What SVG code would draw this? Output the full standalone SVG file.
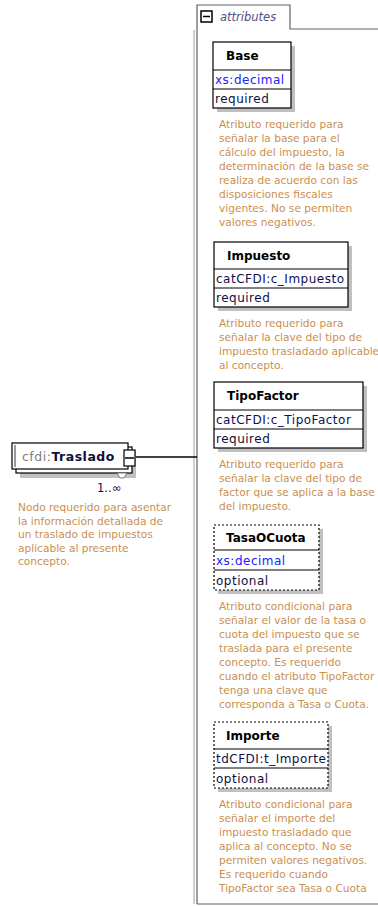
<svg xmlns="http://www.w3.org/2000/svg" width="378" height="906" viewBox="0 0 378 906">
<style>
.desc{font-family:"DejaVu Sans",sans-serif;font-size:10.6px;fill:#c99050}
.hdr{font-family:"DejaVu Sans",sans-serif;font-size:12px;font-weight:bold;fill:#000}
.typ{font-family:"DejaVu Sans",sans-serif;font-size:12px;letter-spacing:0.5px;fill:#101050}
.xs{fill:#2020ff}
.use{font-family:"DejaVu Sans",sans-serif;font-size:12px;letter-spacing:0.5px;fill:#101040}
.box{fill:#fff;stroke:#000;stroke-width:1.2}
.dbox{fill:#fff;stroke:#000;stroke-width:1.2;stroke-dasharray:2,2}
.shadow{fill:#c0c0c0}
.div{stroke:#000;stroke-width:1}
.frame{fill:none;stroke:#606060;stroke-width:1.2}
</style>
<g id="attributes-frame">
<path class="frame" d="M197,904 V5 H290 V29 H378"/>
<line x1="194" y1="30" x2="194" y2="904" stroke="#a0a0a0" stroke-width="1"/>
<line x1="197" y1="904" x2="378" y2="904" stroke="#606060" stroke-width="1.2"/>
<rect x="201" y="11" width="11" height="11" fill="#fff" stroke="#000" stroke-width="1.5"/>
<line x1="203" y1="16.5" x2="210" y2="16.5" stroke="#000" stroke-width="1.5"/>
<text x="220" y="21" font-family="DejaVu Sans,sans-serif" font-size="11.5" font-style="italic" fill="#505080">attributes</text>
</g>
<g id="connectors">
<line x1="136" y1="457" x2="197" y2="457" stroke="#000" stroke-width="1.5"/>
</g>
<g id="Traslado">
<rect class="shadow" x="20" y="451" width="116" height="27"/>
<rect class="box" x="16" y="447" width="116" height="26"/>
<rect class="box" x="12" y="443" width="116" height="26"/>
<line x1="15" y1="445" x2="15" y2="467" stroke="#000" stroke-width="0.8"/>
<text x="22" y="461" font-family="DejaVu Sans,sans-serif" font-size="12.5" letter-spacing="0.5"><tspan fill="#808080">cfdi:</tspan><tspan font-weight="bold" fill="#10103a">Traslado</tspan></text>
<rect x="124" y="450" width="11" height="16" fill="#fff" stroke="#000" stroke-width="1.2"/>
<line x1="125" y1="458" x2="134" y2="458" stroke="#000" stroke-width="1.5"/>
<path d="M117,473 L127,473 L124,478 L120,478 Z" fill="#fff" stroke="#606060" stroke-width="0.8"/>
<text x="97" y="492" font-family="DejaVu Sans,sans-serif" font-size="11.5" fill="#101050">1..∞</text>
<text class="desc" font-size="11.4"><tspan x="18" y="511">Nodo requerido para asentar</tspan><tspan x="18" y="524.5">la información detallada de</tspan><tspan x="18" y="538">un traslado de impuestos</tspan><tspan x="18" y="551.5">aplicable al presente</tspan><tspan x="18" y="565">concepto.</tspan></text>
</g>
<g id="Base">
<rect class="shadow" x="217" y="46" width="78" height="66"/>
<rect class="box" x="213" y="42" width="78" height="66"/>
<line class="div" x1="213" y1="70" x2="291" y2="70"/>
<line class="div" x1="213" y1="89" x2="291" y2="89"/>
<text class="hdr" x="226" y="60">Base</text>
<text class="typ xs" x="215" y="84">xs:decimal</text>
<text class="use" x="215" y="103">required</text>
<text class="desc"><tspan x="219" y="128">Atributo requerido para</tspan><tspan x="219" y="142">señalar la base para el</tspan><tspan x="219" y="156">cálculo del impuesto, la</tspan><tspan x="219" y="170">determinación de la base se</tspan><tspan x="219" y="184">realiza de acuerdo con las</tspan><tspan x="219" y="198">disposiciones fiscales</tspan><tspan x="219" y="212">vigentes. No se permiten</tspan><tspan x="219" y="226">valores negativos.</tspan></text>
</g>
<g id="Impuesto">
<rect class="shadow" x="218" y="246" width="134" height="65"/>
<rect class="box" x="214" y="242" width="134" height="65"/>
<line class="div" x1="214" y1="269" x2="348" y2="269"/>
<line class="div" x1="214" y1="288" x2="348" y2="288"/>
<text class="hdr" x="227" y="260">Impuesto</text>
<text class="typ" x="216" y="283">catCFDI:c_Impuesto</text>
<text class="use" x="216" y="302">required</text>
<text class="desc"><tspan x="219" y="327">Atributo requerido para</tspan><tspan x="219" y="341">señalar la clave del tipo de</tspan><tspan x="219" y="355">impuesto trasladado aplicable</tspan><tspan x="219" y="369">al concepto.</tspan></text>
</g>
<g id="TipoFactor">
<rect class="shadow" x="218" y="386" width="149" height="66"/>
<rect class="box" x="214" y="382" width="149" height="66"/>
<line class="div" x1="214" y1="410" x2="363" y2="410"/>
<line class="div" x1="214" y1="429" x2="363" y2="429"/>
<text class="hdr" x="227" y="400">TipoFactor</text>
<text class="typ" x="216" y="424">catCFDI:c_TipoFactor</text>
<text class="use" x="216" y="443">required</text>
<text class="desc"><tspan x="219" y="468">Atributo requerido para</tspan><tspan x="219" y="482">señalar la clave del tipo de</tspan><tspan x="219" y="496">factor que se aplica a la base</tspan><tspan x="219" y="510">del impuesto.</tspan></text>
</g>
<g id="TasaOCuota">
<rect class="shadow" x="218" y="529" width="105" height="65"/>
<rect class="dbox" x="214" y="525" width="105" height="65"/>
<line class="div" x1="214" y1="550" x2="319" y2="550"/>
<line class="div" x1="214" y1="570" x2="319" y2="570"/>
<text class="hdr" x="226" y="542">TasaOCuota</text>
<text class="typ xs" x="216" y="565">xs:decimal</text>
<text class="use" x="216" y="585">optional</text>
<text class="desc"><tspan x="219" y="610">Atributo condicional para</tspan><tspan x="219" y="624">señalar el valor de la tasa o</tspan><tspan x="219" y="638">cuota del impuesto que se</tspan><tspan x="219" y="652">traslada para el presente</tspan><tspan x="219" y="666">concepto. Es requerido</tspan><tspan x="219" y="680">cuando el atributo TipoFactor</tspan><tspan x="219" y="694">tenga una clave que</tspan><tspan x="219" y="708">corresponda a Tasa o Cuota.</tspan></text>
</g>
<g id="Importe">
<rect class="shadow" x="218" y="726" width="114" height="66"/>
<rect class="dbox" x="214" y="722" width="114" height="66"/>
<line class="div" x1="214" y1="749" x2="328" y2="749"/>
<line class="div" x1="214" y1="768" x2="328" y2="768"/>
<text class="hdr" x="226" y="740">Importe</text>
<text class="typ" x="216" y="763">tdCFDI:t_Importe</text>
<text class="use" x="216" y="783">optional</text>
<text class="desc"><tspan x="219" y="808">Atributo condicional para</tspan><tspan x="219" y="822">señalar el importe del</tspan><tspan x="219" y="836">impuesto trasladado que</tspan><tspan x="219" y="850">aplica al concepto. No se</tspan><tspan x="219" y="864">permiten valores negativos.</tspan><tspan x="219" y="878">Es requerido cuando</tspan><tspan x="219" y="892">TipoFactor sea Tasa o Cuota</tspan></text>
</g>
</svg>
